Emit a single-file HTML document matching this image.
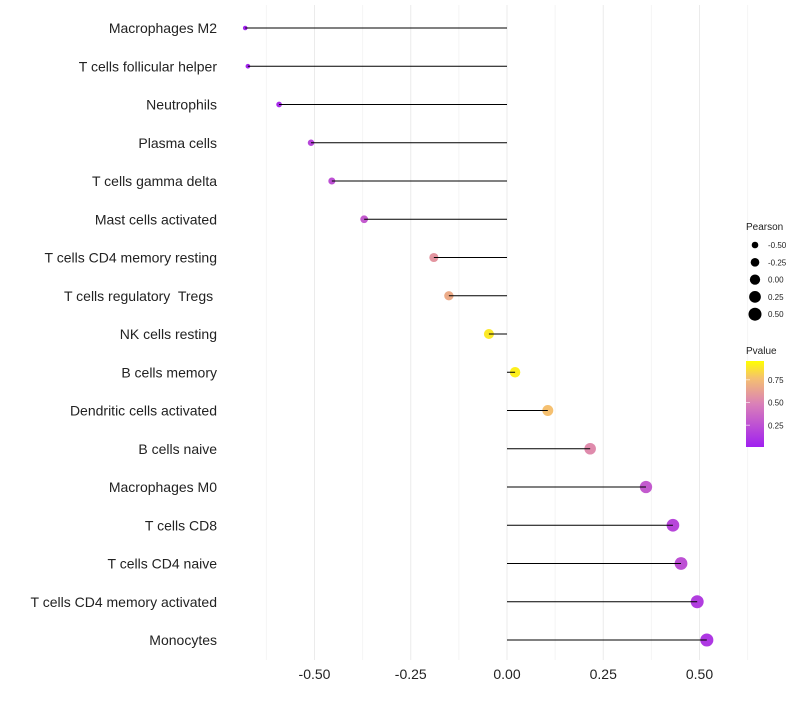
<!DOCTYPE html>
<html><head><meta charset="utf-8"><style>
body{margin:0;background:#fff;font-family:"Liberation Sans",sans-serif}
svg text{font-family:"Liberation Sans",sans-serif}
.pre{white-space:pre}
</style></head><body>
<svg id="chart" width="800" height="700" xmlns="http://www.w3.org/2000/svg">
<defs><linearGradient id="pg" x1="0" y1="1" x2="0" y2="0">
<stop offset="0" stop-color="#A020F0"/><stop offset="0.5" stop-color="#DA80B8"/><stop offset="0.8" stop-color="#F5C070"/><stop offset="1" stop-color="#FFFF00"/></linearGradient></defs>
<g id="grid"></g>
<g id="pts"></g>
<g id="marks"></g>
<g id="ylab"></g>
<g id="xlab"></g>
<g id="sizeleg">
<text x="746" y="230" font-size="10" fill="#222">Pearson</text>
</g>
<g id="colleg">
<text x="746" y="354" font-size="10" fill="#222">Pvalue</text>
<rect x="746" y="361" width="18" height="86" fill="url(#pg)"/>
</g>
</svg>
<script>
const categories=["Macrophages M2","T cells follicular helper","Neutrophils","Plasma cells","T cells gamma delta","Mast cells activated","T cells CD4 memory resting","T cells regulatory  Tregs ","NK cells resting","B cells memory","Dendritic cells activated","B cells naive","Macrophages M0","T cells CD8","T cells CD4 naive","T cells CD4 memory activated","Monocytes"];
const pearson=[-0.68,-0.673,-0.592,-0.509,-0.455,-0.371,-0.19,-0.151,-0.047,0.021,0.106,0.216,0.361,0.431,0.452,0.494,0.519];
const pvalue=[0.02,0.03,0.06,0.2,0.25,0.3,0.6,0.7,0.93,0.95,0.8,0.55,0.3,0.2,0.25,0.15,0.12];
const xTicks=[-0.5,-0.25,0,0.25,0.5];
const xTickLabels=["-0.50","-0.25","0.00","0.25","0.50"];
const legendSizes=[-0.5,-0.25,0,0.25,0.5];
const legendSizeLabels=["-0.50","-0.25","0.00","0.25","0.50"];
const colorTicks=[0.25,0.5,0.75];
const colorTickLabels=["0.25","0.50","0.75"];
const NS="http://www.w3.org/2000/svg";
const x=v=>507+v*385;
const y=i=>28+i*38.25;
const r=v=>Math.sqrt(Math.max(2,26.6+31.35*v));
function lerp(a,b,t){return a.map((c,i)=>Math.round(c+(b[i]-c)*t));}
function col(p){const st=[[0,[160,32,240]],[0.5,[218,128,184]],[0.8,[245,192,112]],[1,[255,255,0]]];
for(let k=1;k<st.length;k++){if(p<=st[k][0]){const t=(p-st[k-1][0])/(st[k][0]-st[k-1][0]);const c=lerp(st[k-1][1],st[k][1],t);return `rgb(${c})`;}}return "rgb(255,255,0)";}
function mk(tag,at,parent){const e=document.createElementNS(NS,tag);for(const k in at)e.setAttribute(k,at[k]);parent.appendChild(e);return e;}
const grid=document.getElementById('grid'),marks=document.getElementById('marks'),pts=document.getElementById('pts'),ylab=document.getElementById('ylab'),xlab=document.getElementById('xlab');
for(let v=-0.625;v<=0.626;v+=0.125){const l=mk('line',{x1:x(v),x2:x(v),y1:5,y2:660,stroke:Math.abs(v*4-Math.round(v*4))<1e-6?'#ebebeb':'#f4f4f4','stroke-width':1},grid);

}
xTicks.forEach((v,i)=>{const t=mk('text',{x:x(v),y:679,'font-size':14,'text-anchor':'middle',fill:'#222'},xlab);t.textContent=xTickLabels[i];

});
categories.forEach((c,i)=>{
const t=mk('text',{x:217,y:y(i)+5,'font-size':14,'text-anchor':'end',fill:'#222','class':'pre'},ylab);t.textContent=c;


const p=mk('circle',{cx:x(pearson[i]),cy:y(i),r:r(pearson[i]),fill:col(pvalue[i])},pts);


const l=mk('line',{x1:x(0),x2:x(pearson[i]),y1:y(i),y2:y(i),stroke:'#000','stroke-width':1},marks);


});
const sl=document.getElementById('sizeleg');
legendSizes.forEach((v,i)=>{const cy=245+i*17.3;
const c=mk('circle',{cx:755,cy:cy,r:r(v),fill:'#000'},sl);


const t=mk('text',{x:768,y:cy+3,'font-size':8,fill:'#222'},sl);t.textContent=legendSizeLabels[i];

});
const cl=document.getElementById('colleg');
const cy=p=>448-p*91;
colorTicks.forEach((p,i)=>{
const t=mk('text',{x:768,y:cy(p)+3,'font-size':8,fill:'#222'},cl);t.textContent=colorTickLabels[i];


const l=mk('line',{x1:746,x2:750,y1:cy(p),y2:cy(p),stroke:'#fff','stroke-width':1,opacity:0.6},cl);

});
</script>
</body></html>
